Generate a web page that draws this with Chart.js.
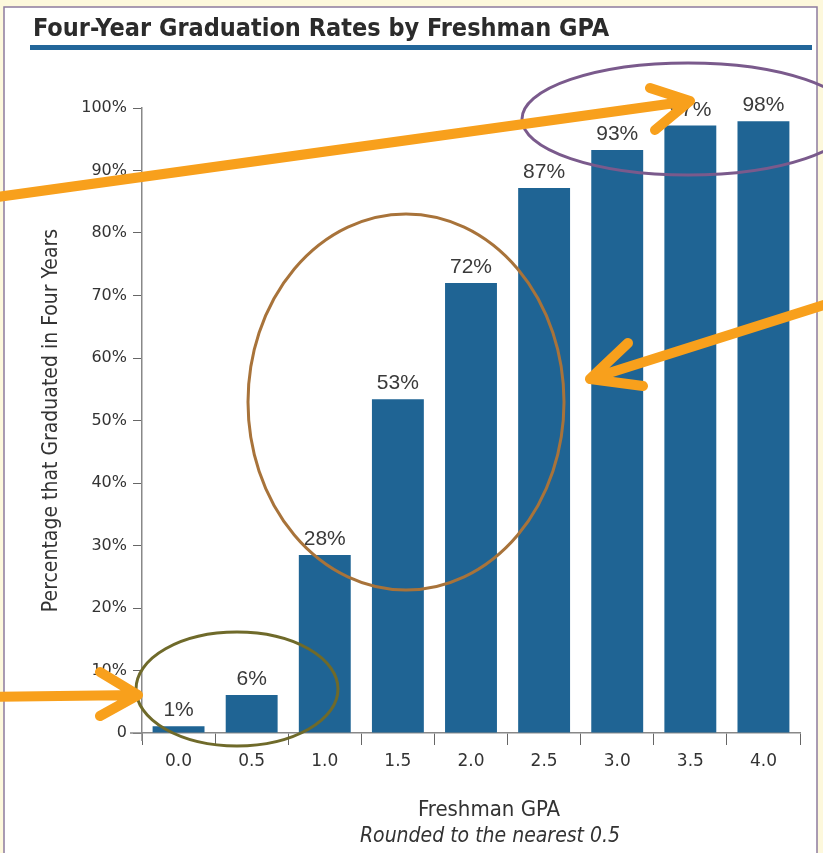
<html>
<head>
<script src="https://cdn.jsdelivr.net/npm/chart.js"></script>
<style>
  body { margin: 0; background: #fdf8dc; }
</style>
</head>
<body>

<canvas id="myChart" width="823" height="853"></canvas>

<script>
    // chart data
    const gpaLabels = ["0.0", "0.5", "1.0", "1.5", "2.0", "2.5", "3.0", "3.5", "4.0"];
    const gradRates = [1.1, 6.1, 28.5, 53.4, 72, 87.2, 93.3, 97.2, 97.9];
    const rateLabels = ["1%", "6%", "28%", "53%", "72%", "87%", "93%", "97%", "98%"];

    const chartTitle = "Four-Year Graduation Rates by Freshman GPA";
    const xTitle = "Freshman GPA";
    const xSubtitle = "Rounded to the nearest 0.5";
    const yTitle = "Percentage that Graduated in Four Years";

    const barBlue = "#1f6494";
    const orange = "#f8a01c";
    const narrow = "'DejaVu Sans Condensed', 'Liberation Sans', sans-serif";

    // page background, white panel, heading, x-axis caption
    const backdrop = {
        id: "backdrop",
        beforeDraw(chart) {
            const ctx = chart.ctx;
            ctx.save();
            ctx.fillStyle = "#fdf8dc";
            ctx.fillRect(0, 0, chart.width, chart.height);
            ctx.fillStyle = "#ffffff";
            ctx.fillRect(4, 7, 813, 860);
            ctx.strokeStyle = "#8d7b9e";
            ctx.lineWidth = 1.5;
            ctx.strokeRect(4, 7, 813, 860);

            ctx.fillStyle = "#2b2b2b";
            ctx.font = "bold 25px " + narrow;
            ctx.textBaseline = "alphabetic";
            ctx.textAlign = "left";
            ctx.fillText(chartTitle, 33, 36);
            ctx.fillStyle = "#22669a";
            ctx.fillRect(30, 45, 782, 5);

            ctx.fillStyle = "#333";
            ctx.textAlign = "center";
            ctx.textBaseline = "middle";
            ctx.font = "22px " + narrow;
            ctx.fillText(xTitle, 489, 810);
            ctx.font = "oblique 21px " + narrow;
            ctx.fillText(xSubtitle, 490, 837);
            ctx.restore();
        }
    };

    // value labels above bars
    const barLabels = {
        id: "barLabels",
        afterDatasetsDraw(chart) {
            const ctx = chart.ctx;
            const meta = chart.getDatasetMeta(0);
            ctx.save();
            ctx.fillStyle = "#3a3a3a";
            ctx.font = "21px 'Liberation Sans'";
            ctx.textAlign = "center";
            ctx.textBaseline = "alphabetic";
            meta.data.forEach((bar, i) => {
                ctx.fillText(rateLabels[i], bar.x, bar.y - 10);
            });
            ctx.restore();
        }
    };

    function arrow(ctx, x1, y1, x2, y2, a1, a2) {
        ctx.beginPath();
        ctx.moveTo(x1, y1);
        ctx.lineTo(x2, y2);
        ctx.moveTo(a1[0], a1[1]);
        ctx.lineTo(x2, y2);
        ctx.lineTo(a2[0], a2[1]);
        ctx.stroke();
    }

    // axis stubs past the corner, then hand-drawn circles and arrows on top
    const marks = {
        id: "marks",
        afterDraw(chart) {
            const ctx = chart.ctx;
            const area = chart.chartArea;
            ctx.save();
            ctx.strokeStyle = "#888";
            ctx.lineWidth = 1.5;
            ctx.beginPath();
            ctx.moveTo(area.left - 12, area.bottom);
            ctx.lineTo(area.left, area.bottom);
            ctx.moveTo(area.left, area.bottom);
            ctx.lineTo(area.left, area.bottom + 8);
            ctx.stroke();

            ctx.lineWidth = 3;
            ctx.strokeStyle = "#7a5a8c";
            ctx.beginPath();
            ctx.ellipse(688, 119, 166, 56, 0, 0, Math.PI * 2);
            ctx.stroke();
            ctx.strokeStyle = "#a8733a";
            ctx.beginPath();
            ctx.ellipse(406, 402, 158, 188, 0, 0, Math.PI * 2);
            ctx.stroke();
            ctx.strokeStyle = "#6f6a2a";
            ctx.beginPath();
            ctx.ellipse(237, 689, 101, 57, 0, 0, Math.PI * 2);
            ctx.stroke();

            ctx.strokeStyle = orange;
            ctx.lineWidth = 10;
            ctx.lineCap = "round";
            ctx.lineJoin = "round";
            arrow(ctx, -10, 198, 690, 101, [650, 88], [655, 130]);
            arrow(ctx, 833, 302, 590, 379, [628, 343], [643, 386]);
            arrow(ctx, -10, 697, 138, 695, [100, 672], [100, 716]);
            ctx.restore();
        }
    };

    new Chart("myChart", {
        type: "bar",
        data: {
            labels: gpaLabels,
            datasets: [{
                data: gradRates,
                backgroundColor: barBlue,
                borderWidth: 0,
                categoryPercentage: 1,
                barPercentage: 0.71
            }]
        },
        options: {
            responsive: false,
            animation: false,
            layout: { padding: { left: 30, right: 23, top: 108, bottom: 0 } },
            plugins: {
                legend: { display: false },
                tooltip: { enabled: false }
            },
            scales: {
                x: {
                    afterFit: scale => { scale.height = 120; },
                    grid: { drawOnChartArea: false, tickLength: 12, color: "#666", offset: true },
                    border: { color: "#888", width: 1.5 },
                    ticks: { color: "#333", padding: 6, font: { family: "DejaVu Sans", size: 17 } }
                },
                y: {
                    min: 0,
                    max: 100,
                    afterFit: scale => { scale.width = 112; },
                    grid: { drawOnChartArea: false, tickLength: 9, color: "#666" },
                    border: { color: "#888", width: 1.5 },
                    ticks: {
                        stepSize: 10,
                        color: "#333",
                        padding: 6,
                        font: { family: "DejaVu Sans", size: 16 },
                        callback: v => v === 0 ? "0" : v + "%"
                    },
                    title: {
                        display: true,
                        text: yTitle,
                        color: "#333",
                        font: { family: narrow, size: 21 },
                        padding: { top: 9, bottom: 0 }
                    }
                }
            }
        },
        plugins: [backdrop, barLabels, marks]
    });
</script>

</body>
</html>
